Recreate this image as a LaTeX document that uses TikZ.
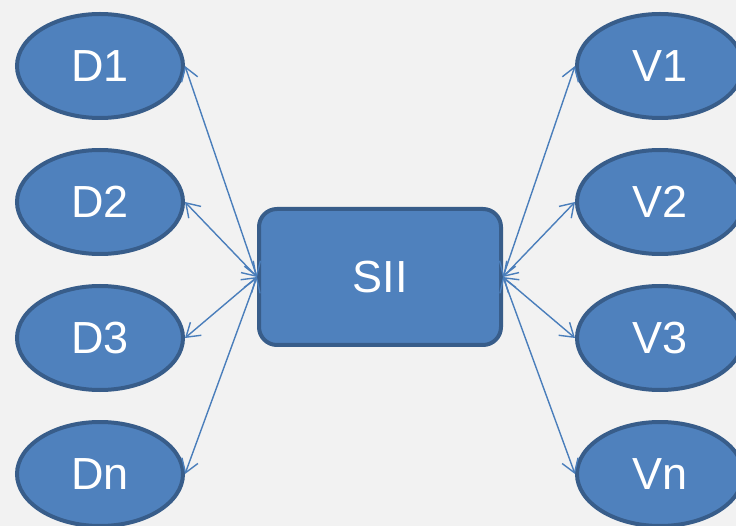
\documentclass[tikz,border=0pt]{standalone}
\usepackage{fontspec}
\setmainfont{Liberation Sans}
\usetikzlibrary{shapes.geometric,arrows.meta}
\definecolor{bg}{HTML}{F2F2F2}
\definecolor{fillb}{HTML}{4F81BD}
\definecolor{edgeb}{HTML}{385D8A}
\definecolor{arrc}{HTML}{4A7EBB}
\tikzset{
  oval/.style={ellipse, draw=edgeb, fill=fillb, line width=4pt, minimum width=166pt, minimum height=104pt, inner sep=0pt, text=white, font=\fontsize{45}{50}\selectfont},
  hub/.style={rectangle, rounded corners=18pt, draw=edgeb, fill=fillb, line width=4pt, minimum width=242pt, minimum height=136pt, inner sep=0pt, text=white, font=\fontsize{45}{50}\selectfont},
  link/.style={draw=arrc, line width=1.4pt, {Straight Barb[length=13pt,width=17pt]}-{Straight Barb[length=13pt,width=17pt]}}
}
\begin{document}
\begin{tikzpicture}[x=1pt,y=-1pt]
\fill[bg] (0,0) rectangle (736,526);
\useasboundingbox (0,0) rectangle (736,526);
\begin{scope}
\clip (0,0) rectangle (736,526);
\node[hub] (sii) at (380,277) {SII};
\node[oval] (d1) at (100,66) {D1};
\node[oval] (d2) at (100,202) {D2};
\node[oval] (d3) at (100,338) {D3};
\node[oval] (dn) at (100,474) {Dn};
\node[oval] (v1) at (660,66) {V1};
\node[oval] (v2) at (660,202) {V2};
\node[oval] (v3) at (660,338) {V3};
\node[oval] (vn) at (660,474) {Vn};
\draw[link] (d1.east) -- (sii.west);
\draw[link] (d2.east) -- (sii.west);
\draw[link] (d3.east) -- (sii.west);
\draw[link] (dn.east) -- (sii.west);
\draw[link] (v1.west) -- (sii.east);
\draw[link] (v2.west) -- (sii.east);
\draw[link] (v3.west) -- (sii.east);
\draw[link] (vn.west) -- (sii.east);
\end{scope}
\end{tikzpicture}
\end{document}
